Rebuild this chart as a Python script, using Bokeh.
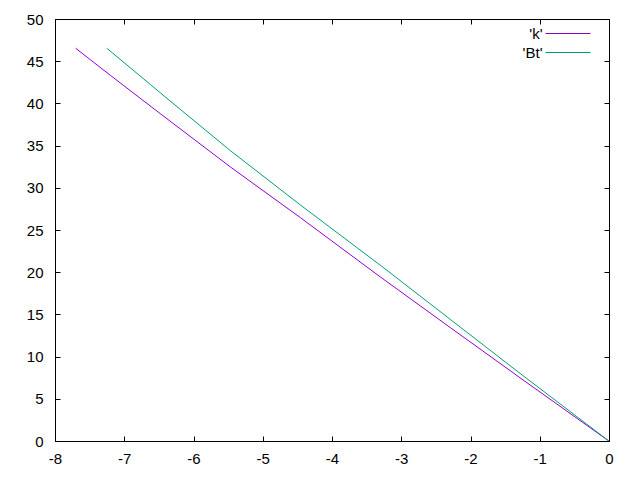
from bokeh.plotting import figure
from bokeh.models import LinearAxis, FixedTicker, Range1d, Label, Arrow
from bokeh.embed import file_html
from bokeh.resources import INLINE

# data
k_x = [-7.71, -7.21, -6.48, -5.47, -4.46, -3.31, -2.30, -1.29, 0.0]
k_y = [46.6, 43.4, 38.8, 32.5, 26.5, 19.5, 13.5, 7.54, 0.0]
bt_x = [-7.26, -6.63, -6.36, -5.47, -4.46, -3.31, -2.30, -1.29, 0.0]
bt_y = [46.6, 42.3, 40.45, 34.43, 28.0, 20.89, 14.47, 8.06, 0.0]
x_ticks = [-8, -7, -6, -5, -4, -3, -2, -1, 0]
y_ticks = [0, 5, 10, 15, 20, 25, 30, 35, 40, 45, 50]
series_names = ["'k'", "'Bt'"]
series_colors = ["#9400d3", "#009e73"]

FONT = "Liberation Sans"
FS = "15px"

p = figure(width=632, height=472, output_backend="svg", toolbar_location=None,
           x_range=Range1d(-8, 0), y_range=Range1d(0, 50),
           x_axis_location=None, y_axis_location=None,
           min_border_left=55, min_border_right=23, min_border_top=19, min_border_bottom=31)
p.background_fill_color = "white"
p.border_fill_color = "white"
p.outline_line_color = "black"
p.outline_line_width = 1
p.grid.visible = False

def make_axis(ticks, labels=True):
    ax = LinearAxis(ticker=FixedTicker(ticks=ticks))
    ax.major_tick_in = 5
    ax.major_tick_out = 0
    ax.minor_tick_line_color = None
    ax.axis_line_color = "black"
    ax.major_tick_line_color = "black"
    if labels:
        ax.major_label_overrides = {t: str(t) for t in ticks}
        ax.major_label_text_font = FONT
        ax.major_label_text_font_size = FS
        ax.major_label_text_color = "black"
    else:
        ax.major_label_overrides = {t: "" for t in ticks}
        ax.major_label_standoff = 0
    return ax

bx = make_axis(x_ticks)
bx.major_label_standoff = 12
ly = make_axis(y_ticks)
ly.major_label_standoff = 12
p.add_layout(bx, "below")
p.add_layout(ly, "left")
p.add_layout(make_axis(x_ticks, False), "above")
p.add_layout(make_axis(y_ticks, False), "right")

p.line(k_x, k_y, line_color=series_colors[0], line_width=1)
p.line(bt_x, bt_y, line_color=series_colors[1], line_width=1)

# key (gnuplot style: label left, sample line right)
key_y = [408, 389]
for name, col, yy in zip(series_names, series_colors, key_y):
    p.add_layout(Label(x=487, y=yy, x_units="screen", y_units="screen", text=name,
                       text_align="right", text_baseline="middle",
                       text_font=FONT, text_font_size=FS, text_color="black"))
    p.add_layout(Arrow(end=None, start=None, x_start=490, y_start=yy, x_end=535, y_end=yy,
                       start_units="screen", end_units="screen",
                       line_color=col, line_width=1))

open("out.html", "w").write(file_html(p, INLINE))
